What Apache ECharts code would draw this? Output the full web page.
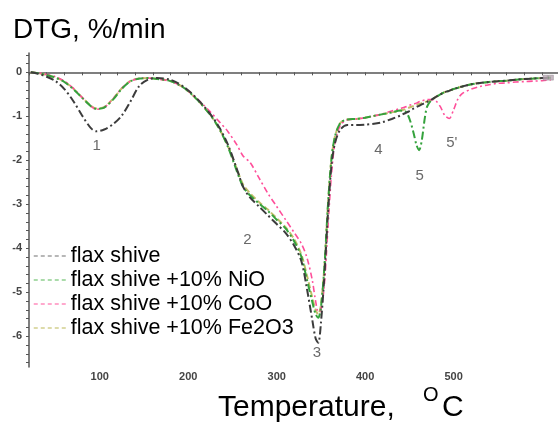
<!DOCTYPE html>
<html>
<head>
<meta charset="utf-8">
<script src="https://cdn.jsdelivr.net/npm/echarts@6/dist/echarts.min.js"></script>
<style>
html,body{margin:0;padding:0;background:#fff;}
#chart{width:558px;height:430px;}
</style>
</head>
<body>
<div id="chart"></div>
<script>
// Temperature grid (°C)
const temps = [22,30,40,50,60,70,80,90,96,105,115,125,135,145,155,165,180,195,210,225,235,245,255,262,270,280,290,300,310,320,328,334,340,344,347,350,354,358,362,366,372,380,390,400,410,420,430,440,445,450,455,458,461,464,467,470,475,480,485,490,495,500,505,510,520,530,540,550,560,570,580,590,600,610];

// DTG values (%/min)
const flaxShive = [0,-0.03,-0.1,-0.2,-0.38,-0.65,-0.98,-1.27,-1.34,-1.3,-1.18,-0.98,-0.65,-0.3,-0.16,-0.13,-0.17,-0.33,-0.6,-0.95,-1.25,-1.65,-2.2,-2.6,-2.85,-3.05,-3.25,-3.45,-3.65,-3.95,-4.3,-4.9,-5.6,-6.05,-6.15,-5.7,-4.6,-3.2,-2.1,-1.6,-1.3,-1.2,-1.2,-1.19,-1.17,-1.13,-1.06,-0.98,-0.93,-0.88,-0.82,-0.79,-0.76,-0.73,-0.7,-0.67,-0.62,-0.56,-0.5,-0.45,-0.42,-0.38,-0.35,-0.32,-0.27,-0.24,-0.22,-0.2,-0.19,-0.17,-0.15,-0.14,-0.13,-0.12];
const flaxNiO = [0,-0.02,-0.06,-0.12,-0.22,-0.38,-0.58,-0.77,-0.83,-0.8,-0.62,-0.37,-0.2,-0.14,-0.13,-0.15,-0.2,-0.35,-0.62,-0.97,-1.28,-1.7,-2.25,-2.6,-2.8,-2.98,-3.15,-3.35,-3.55,-3.85,-4.2,-4.7,-5.2,-5.5,-5.58,-5.35,-4.4,-3.0,-1.95,-1.45,-1.15,-1.07,-1.06,-1.03,-0.99,-0.95,-0.91,-0.87,-0.88,-1.05,-1.4,-1.65,-1.77,-1.55,-1.1,-0.78,-0.63,-0.56,-0.5,-0.45,-0.42,-0.38,-0.35,-0.32,-0.27,-0.24,-0.22,-0.2,-0.19,-0.17,-0.15,-0.14,-0.13,-0.12];
const flaxCoO = [0,-0.01,-0.05,-0.1,-0.2,-0.36,-0.57,-0.77,-0.84,-0.8,-0.6,-0.36,-0.2,-0.14,-0.13,-0.15,-0.2,-0.35,-0.6,-0.9,-1.12,-1.35,-1.65,-1.9,-2.05,-2.4,-2.75,-3.05,-3.35,-3.65,-3.9,-4.2,-4.7,-5.2,-5.45,-5.4,-4.8,-3.5,-2.3,-1.6,-1.2,-1.08,-1.06,-1.03,-0.99,-0.94,-0.88,-0.82,-0.79,-0.75,-0.72,-0.7,-0.67,-0.65,-0.63,-0.62,-0.62,-0.65,-0.78,-0.98,-1.05,-0.85,-0.6,-0.48,-0.38,-0.32,-0.28,-0.25,-0.24,-0.22,-0.21,-0.2,-0.19,-0.17];
const flaxFe2O3 = [0,-0.02,-0.06,-0.12,-0.21,-0.37,-0.57,-0.76,-0.82,-0.79,-0.6,-0.36,-0.19,-0.14,-0.13,-0.15,-0.2,-0.35,-0.62,-0.97,-1.28,-1.68,-2.2,-2.55,-2.75,-2.95,-3.12,-3.32,-3.52,-3.8,-4.15,-4.6,-5.1,-5.4,-5.5,-5.3,-4.4,-3.0,-1.95,-1.45,-1.15,-1.07,-1.06,-1.03,-0.99,-0.95,-0.91,-0.87,-0.84,-0.8,-0.76,-0.74,-0.72,-0.7,-0.68,-0.66,-0.62,-0.56,-0.5,-0.45,-0.42,-0.38,-0.35,-0.32,-0.27,-0.24,-0.22,-0.2,-0.19,-0.17,-0.15,-0.14,-0.13,-0.12];

const seriesNames = ['flax shive','flax shive +10% NiO','flax shive +10% CoO','flax shive +10% Fe2O3'];

// Axis tick labels
const xTickLabels = [100,200,300,400,500];
const yTickLabels = [-6,-5,-4,-3,-2,-1,0];

// Peak annotations
const annoText = ['1','2','3','4','5',"5'"];
const annoT = [96.5, 267, 345.5, 415, 461.5, 498];
const annoY = [-1.67, -3.80, -6.37, -1.76, -2.35, -1.60];

const xMinorTicks = [];
for (let v = 20; v <= 600; v += 20) xMinorTicks.push(v);
const yMinorTicks = [];
for (let k = -33; k <= 2; k++) yMinorTicks.push(Math.round(k * 2) / 10);

const FONT = 'Liberation Sans, Arial, sans-serif';
const pair = arr => temps.map((t, i) => [t, arr[i]]);

const chart = echarts.init(document.getElementById('chart'), null, {renderer: 'canvas'});

const lineColors = ['#3c3c3c', '#34a23c', '#ff4f9a', '#c2bd6a'];
const legendColors = ['#a0a0a0', '#8fd08f', '#ff8dbd', '#d2d08f'];
const dashes = [[8,3,2,3],[8,3,2,3],[6,3,2,3],[6,3]];
const widths = [2, 2, 1.6, 2];
const dataSets = [flaxShive, flaxNiO, flaxCoO, flaxFe2O3];

const drawOrder = [3, 2, 1, 0];
const series = drawOrder.map(i => ({
  name: seriesNames[i],
  type: 'line',
  data: pair(dataSets[i]),
  showSymbol: false,
  symbol: 'none',
  smooth: 0.3,
  z: 2 + (3 - i),
  lineStyle: {color: lineColors[i], width: widths[i], type: dashes[i]},
  itemStyle: {color: lineColors[i]}
}));

// small end-of-curve markers (top right)
series.push({
  type: 'scatter',
  name: 'endMarks',
  data: [[temps[temps.length - 1] - 6, flaxShive[flaxShive.length - 1]], [temps[temps.length - 1], flaxCoO[flaxCoO.length - 1] + 0.05]],
  symbol: 'rect',
  symbolSize: 5,
  itemStyle: {color: '#b9a8b4', borderColor: '#8a7f88', borderWidth: 0.5},
  silent: true,
  z: 9
});

series.push({
  type: 'scatter',
  name: 'annotations',
  data: annoT.map((t, i) => ({value: [t, annoY[i]], name: annoText[i]})),
  symbolSize: 1,
  itemStyle: {color: 'rgba(0,0,0,0)'},
  label: {show: true, position: 'inside', formatter: p => p.name, color: '#444', fontSize: 15, fontFamily: FONT},
  silent: true,
  z: 10
});

chart.setOption({
  animation: false,
  backgroundColor: '#fff',
  grid: {left: 29, right: 0, top: 53, bottom: 63},
  legend: {
    show: true,
    orient: 'vertical',
    left: 28, top: 240,
    itemWidth: 32, itemHeight: 12, itemGap: 2,
    textStyle: {fontSize: 21.5, fontFamily: FONT, color: '#000', lineHeight: 21.5},
    data: seriesNames.map((n, i) => ({
      name: n,
      lineStyle: {color: legendColors[i], width: 1.5, type: [4,3]},
      itemStyle: {color: 'rgba(0,0,0,0)', borderWidth: 0, opacity: 0}
    }))
  },
  xAxis: {
    type: 'value', min: 20, max: 618,
    splitLine: {show: false},
    axisLine: {lineStyle: {color: '#555', width: 1.5}},
    axisTick: {show: true, length: 3, customValues: xMinorTicks, lineStyle: {color: '#555'}},
    axisLabel: {customValues: xTickLabels, color: '#444', fontSize: 11, fontWeight: 'bold', fontFamily: FONT, margin: 4}
  },
  yAxis: {
    type: 'value', min: -6.7, max: 0.44,
    splitLine: {show: false},
    axisLine: {show: true, lineStyle: {color: '#555', width: 1.5}},
    axisTick: {show: true, length: 3, customValues: yMinorTicks, lineStyle: {color: '#555'}},
    axisLabel: {customValues: yTickLabels, color: '#444', fontSize: 11, fontWeight: 'bold', fontFamily: FONT, margin: 7}
  },
  graphic: [
    {type: 'text', left: 13, top: 16, style: {text: 'DTG, %/min', fontSize: 28, fontFamily: FONT, fill: '#000'}},
    {type: 'text', x: 218, y: 408, style: {text: 'Temperature,', fontSize: 30, fontFamily: FONT, fill: '#000', verticalAlign: 'middle'}},
    {type: 'text', x: 423, y: 395, style: {text: 'O', fontSize: 20, fontFamily: FONT, fill: '#000', verticalAlign: 'middle'}},
    {type: 'text', x: 442, y: 408, style: {text: 'C', fontSize: 30, fontFamily: FONT, fill: '#000', verticalAlign: 'middle'}}
  ],
  series: series
});
</script>
</body>
</html>
